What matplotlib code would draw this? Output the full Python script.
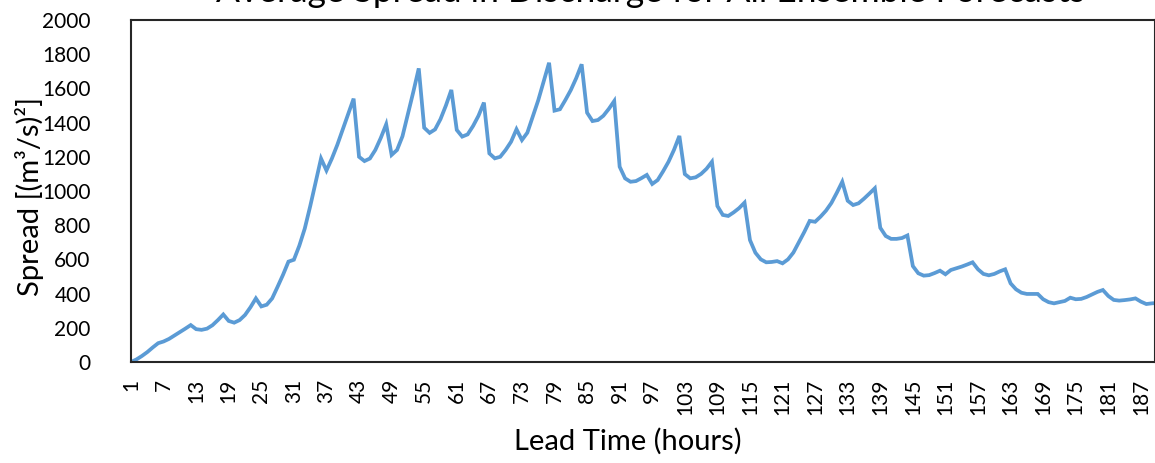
import numpy as np
import matplotlib
matplotlib.use("Agg")
import matplotlib.pyplot as plt

plt.rcParams['font.family'] = ['Lato', 'DejaVu Sans']

hours = list(range(1, 191))
spread = [
    0, 15, 35, 58, 85, 110, 120, 135, 155, 175, 195,
    216, 192, 188, 195, 215, 245, 278, 240, 230, 245, 275, 320,
    372, 325, 335, 372, 440, 510, 587, 598, 680, 780, 910, 1050,
    1190, 1120, 1190, 1270, 1360, 1450, 1540, 1200, 1175, 1190, 1240, 1310,
    1390, 1211, 1240, 1320, 1450, 1580, 1717, 1370, 1340, 1360, 1420, 1500,
    1591, 1357, 1318, 1331, 1380, 1440, 1517, 1220, 1191, 1200, 1240, 1288,
    1361, 1298, 1341, 1435, 1530, 1640, 1750, 1470, 1478, 1532, 1590, 1660,
    1741, 1458, 1409, 1415, 1440, 1480, 1526, 1142, 1074, 1054, 1058, 1075,
    1094, 1041, 1064, 1115, 1171, 1240, 1322, 1099, 1074, 1080, 1100, 1130,
    1171, 912, 860, 854, 875, 900, 932, 713, 639, 600, 583, 585,
    590, 577, 600, 640, 700, 760, 825, 820, 850, 885, 930, 990,
    1054, 943, 918, 928, 955, 985, 1016, 785, 737, 720, 720, 725,
    740, 561, 519, 505, 508, 520, 534, 513, 538, 548, 558, 570,
    583, 542, 515, 507, 515, 530, 542, 460, 425, 405, 398, 398,
    398, 367, 350, 343, 350, 357, 376, 367, 369, 380, 395, 410,
    421, 386, 363, 359, 362, 366, 372, 353, 339, 343, 345,
]
x_ticks = list(range(1, 191, 6))
y_ticks = list(range(0, 2001, 200))

title = "Average Spread in Discharge for All Ensemble Forecasts"
xlabel = "Lead Time (hours)"
ylabel = "Spread [(m\u00b3/s)\u00b2]"

W, H = 1155, 463
fig = plt.figure(figsize=(W / 100, H / 100), dpi=100)
ax = fig.add_axes([131 / W, 1 - 362 / H, (1155 - 131) / W, (362 - 20) / H])

ax.plot(hours, spread, color='#5B9BD5', lw=2.7, solid_joinstyle='miter')

ax.set_xlim(1, 189.6)
ax.set_ylim(0, 2000)
ax.set_xticks(x_ticks)
ax.set_xticklabels([str(t) for t in x_ticks], rotation=90, fontsize=15)
ax.set_yticks(y_ticks)
ax.set_yticklabels([str(t) for t in y_ticks], fontsize=15)
ax.tick_params(axis='both', length=0)
ax.tick_params(axis='x', pad=12)
ax.tick_params(axis='y', pad=29)

for s in ['left', 'bottom', 'top', 'right']:
    ax.spines[s].set_color('#262626')
    ax.spines[s].set_linewidth(1.5)

fig.text(628 / W, 1 - 441 / H, xlabel, fontsize=21, ha='center', va='center')
fig.text(30 / W, 1 - 197 / H, ylabel, rotation=90, fontsize=21,
         ha='center', va='center')
fig.text(650 / W, 1 - 1.5 / H, title, fontsize=25.5, ha='center', va='baseline')

fig.savefig('out.png', dpi=100)
